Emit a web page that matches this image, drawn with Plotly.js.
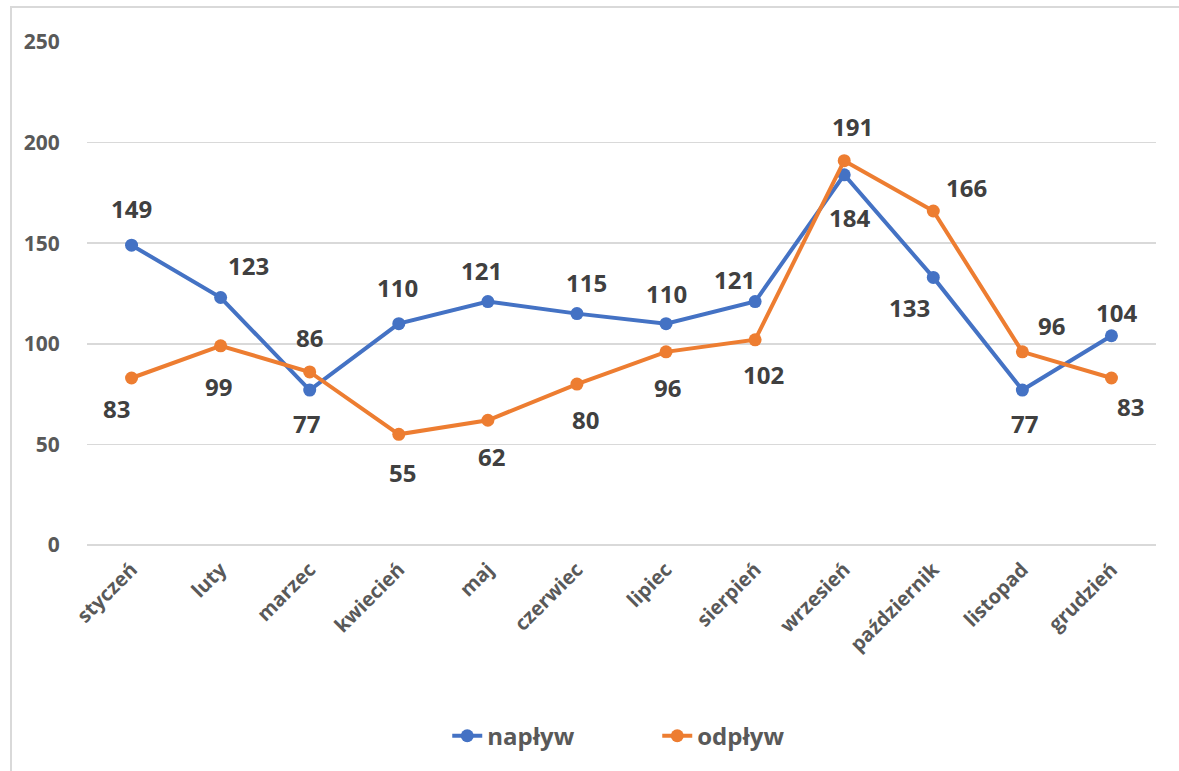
<!DOCTYPE html>
<html>
<head>
<meta charset="utf-8">
<script src="https://cdn.plot.ly/plotly-3.0.1.min.js"></script>
<style>
  html, body { margin: 0; padding: 0; background: #fff; }
  #chart { width: 1179px; height: 771px; }
  #frame { position: absolute; left: 10px; top: 6px; width: 1180px; height: 800px;
           border-left: 2px solid #d9d9d9; border-top: 2px solid #d9d9d9; pointer-events: none; }
</style>
</head>
<body>
<div id="chart"></div>
<div id="frame"></div>
<script>
const months = ["styczeń","luty","marzec","kwiecień","maj","czerwiec","lipiec","sierpień","wrzesień","październik","listopad","grudzień"];
const naplyw = [149,123,77,110,121,115,110,121,184,133,77,104];
const odplyw = [83,99,86,55,62,80,96,102,191,166,96,83];

// label offsets in px (dx right, dy down) relative to the point
const naplywLabelDx = [0,28,-3,-1,-6,10,0,-21,5,-24,2,5];
const naplywLabelDy = [-37,-32,33,-36,-31,-31,-30,-22,43,30,33,-23];
const odplywLabelDx = [-15,-2,0,4,4,9,1,8,8,33,29,19];
const odplywLabelDy = [30,41,-34,38,36,35,36,35,-34,-24,-26,28];

const blue = "#4472C4", orange = "#ED7D31";
const font = "Open Sans, DejaVu Sans, sans-serif";

function trace(name, vals, color) {
  return {
    type: "scatter", mode: "lines+markers", name: name,
    x: months, y: vals,
    line: {color: color, width: 4},
    marker: {color: color, size: 13},
    hoverinfo: "x+y"
  };
}

const annotations = [];
function addLabels(vals, dx, dy) {
  vals.forEach((v, i) => {
    annotations.push({
      x: months[i], y: v, xref: "x", yref: "y",
      text: "<b>" + v + "</b>", showarrow: false,
      xshift: dx[i], yshift: -dy[i],
      font: {family: font, size: 24, color: "#404040"}
    });
  });
}
addLabels(naplyw, naplywLabelDx, naplywLabelDy);
addLabels(odplyw, odplywLabelDx, odplywLabelDy);

const layout = {
  width: 1179, height: 771,
  margin: {l: 87, r: 23, t: 42, b: 221},
  paper_bgcolor: "#fff", plot_bgcolor: "#fff",
  showlegend: true,
  legend: {
    orientation: "h", x: 0.337, xanchor: "left", y: -0.38, yanchor: "middle",
    font: {family: font, size: 24, color: "#595959", weight: "bold"},
    entrywidth: 165, entrywidthmode: "pixels"
  },
  xaxis: {
    type: "category",
    tickangle: -45,
    tickfont: {family: font, size: 20, color: "#595959", weight: "bold"},
    showgrid: false, zeroline: false, showline: false,
    ticks: "outside", ticklen: 4, tickcolor: "rgba(0,0,0,0)",
    range: [-0.5, 11.5], fixedrange: true
  },
  yaxis: {
    range: [0, 250], dtick: 50, tick0: 0,
    tickfont: {family: font, size: 21, color: "#595959", weight: "bold"},
    gridcolor: "#d9d9d9", gridwidth: 1.5,
    zeroline: true, zerolinecolor: "#d9d9d9", zerolinewidth: 1.5,
    showline: false,
    ticks: "outside", ticklen: 22, tickcolor: "rgba(0,0,0,0)",
    fixedrange: true
  },
  annotations: annotations
};

Plotly.newPlot("chart", [trace("napływ", naplyw, blue), trace("odpływ", odplyw, orange)], layout, {displayModeBar: false, staticPlot: true});
</script>
</body>
</html>
